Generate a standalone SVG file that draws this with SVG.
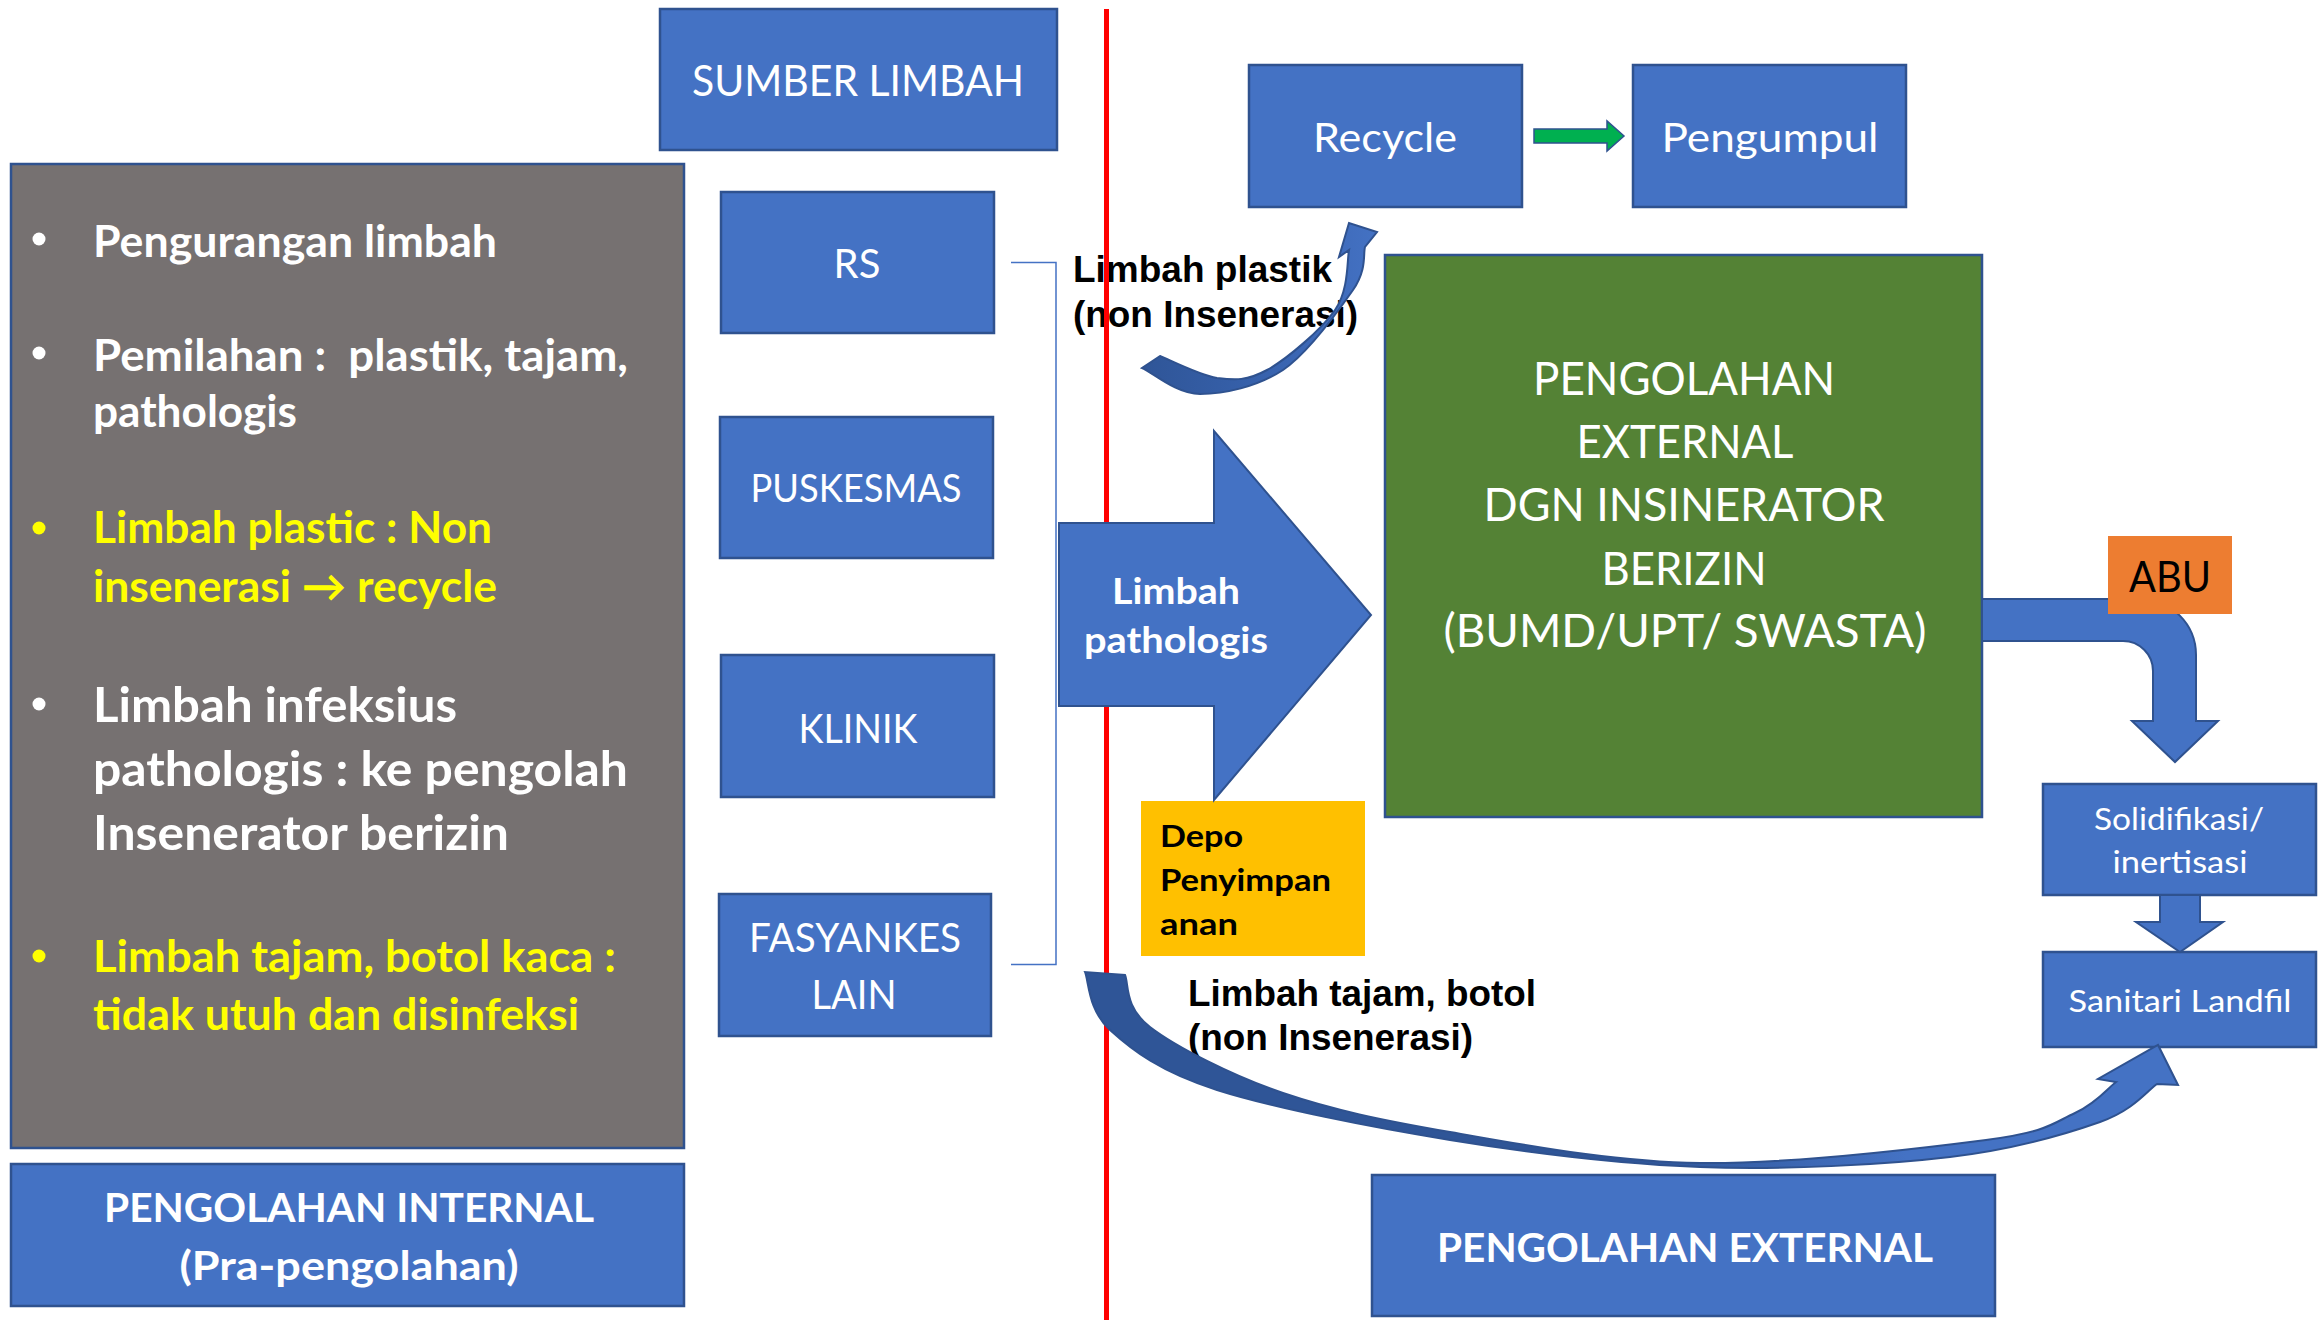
<svg xmlns="http://www.w3.org/2000/svg" width="2321" height="1320" viewBox="0 0 2321 1320">
<style>
.box{fill:#4472C4;stroke:#2F528F;stroke-width:2.5}
.gray{fill:#767171;stroke:#2F528F;stroke-width:2.5}
.green{fill:#548235;stroke:#2F528F;stroke-width:2.5}
.t{font-family:Lato,"Open Sans","Liberation Sans",sans-serif;fill:#fff}
.b{font-weight:bold}
.y{fill:#FFFF00}
.k{fill:#000}
.ar{font-family:"Liberation Sans",Arial,sans-serif;font-weight:bold;fill:#000;font-size:36px}
.mid{text-anchor:middle}
.blt{fill:#fff}
.arrow{fill:#4472C4;stroke:#2F528F;stroke-width:2}
</style>
<defs>
<linearGradient id="gTop" x1="1140" y1="0" x2="1380" y2="0" gradientUnits="userSpaceOnUse">
<stop offset="0" stop-color="#2F5597"/><stop offset="0.45" stop-color="#3660AA"/><stop offset="1" stop-color="#4472C4"/>
</linearGradient>
<linearGradient id="gBot" x1="1085" y1="0" x2="2180" y2="0" gradientUnits="userSpaceOnUse">
<stop offset="0" stop-color="#2F5597"/><stop offset="0.5" stop-color="#2F5597"/><stop offset="0.75" stop-color="#4472C4"/><stop offset="1" stop-color="#4472C4"/>
</linearGradient>
</defs>
<rect width="2321" height="1320" fill="#fff"/>

<g id="sumber-limbah">
<rect class="box" x="660" y="9" width="397" height="141"/>
<text class="t mid" x="858" y="96" font-size="42" textLength="332" lengthAdjust="spacingAndGlyphs">SUMBER LIMBAH</text>
</g>

<g id="internal-list">
<rect class="gray" x="11" y="164" width="673" height="984"/>
<g class="t b" font-size="44">
<circle class="blt" cx="39" cy="239" r="6.5"/>
<text x="93" y="257" textLength="404" lengthAdjust="spacingAndGlyphs">Pengurangan limbah</text>
<circle class="blt" cx="39" cy="353" r="6.5"/>
<text x="93" y="371" textLength="535" lengthAdjust="spacingAndGlyphs" xml:space="preserve">Pemilahan :  plastik, tajam,</text>
<text x="93" y="427" textLength="204" lengthAdjust="spacingAndGlyphs">pathologis</text>
<circle fill="#FFFF00" cx="39" cy="528" r="6.5"/>
<text class="y" x="93" y="543" textLength="399" lengthAdjust="spacingAndGlyphs">Limbah plastic : Non</text>
<text class="y" x="93" y="602" textLength="404" lengthAdjust="spacingAndGlyphs">insenerasi → recycle</text>
<circle class="blt" cx="39" cy="704" r="6.5"/>
<text x="93" y="722" font-size="48" textLength="364" lengthAdjust="spacingAndGlyphs">Limbah infeksius</text>
<text x="93" y="786" font-size="48" textLength="535" lengthAdjust="spacingAndGlyphs">pathologis : ke pengolah</text>
<text x="93" y="850" font-size="48" textLength="416" lengthAdjust="spacingAndGlyphs">Insenerator berizin</text>
<circle fill="#FFFF00" cx="39" cy="956" r="6.5"/>
<text class="y" x="93" y="972" textLength="523" lengthAdjust="spacingAndGlyphs">Limbah tajam, botol kaca :</text>
<text class="y" x="93" y="1030" textLength="486" lengthAdjust="spacingAndGlyphs">tidak utuh dan disinfeksi</text>
</g>
</g>

<g id="pengolahan-internal">
<rect class="box" x="11" y="1164" width="673" height="142"/>
<text class="t b mid" x="349" y="1222" font-size="40" textLength="490" lengthAdjust="spacingAndGlyphs">PENGOLAHAN INTERNAL</text>
<text class="t b mid" x="349" y="1280" font-size="40" textLength="339" lengthAdjust="spacingAndGlyphs">(Pra-pengolahan)</text>
</g>

<g id="rs">
<rect class="box" x="721" y="192" width="273" height="141"/>
<text class="t mid" x="857" y="278" font-size="40">RS</text>
</g>
<g id="puskesmas">
<rect class="box" x="720" y="417" width="273" height="141"/>
<text class="t mid" x="856" y="502" font-size="39" textLength="211" lengthAdjust="spacingAndGlyphs">PUSKESMAS</text>
</g>
<g id="klinik">
<rect class="box" x="721" y="655" width="273" height="142"/>
<text class="t mid" x="858" y="743" font-size="40" textLength="119" lengthAdjust="spacingAndGlyphs">KLINIK</text>
</g>
<g id="fasyankes-lain">
<rect class="box" x="719" y="894" width="272" height="142"/>
<text class="t mid" x="855" y="952" font-size="40" textLength="212" lengthAdjust="spacingAndGlyphs">FASYANKES</text>
<text class="t mid" x="854" y="1009" font-size="40" textLength="85" lengthAdjust="spacingAndGlyphs">LAIN</text>
</g>

<g id="recycle">
<rect class="box" x="1249" y="65" width="273" height="142"/>
<text class="t mid" x="1385" y="152" font-size="40" textLength="144" lengthAdjust="spacingAndGlyphs">Recycle</text>
</g>
<g id="pengumpul">
<rect class="box" x="1633" y="65" width="273" height="142"/>
<text class="t mid" x="1770" y="152" font-size="40" textLength="217" lengthAdjust="spacingAndGlyphs">Pengumpul</text>
</g>

<g id="pengolahan-external-insinerator">
<rect class="green" x="1385" y="255" width="597" height="562"/>
<g class="t mid" font-size="46">
<text x="1684" y="395" textLength="302" lengthAdjust="spacingAndGlyphs">PENGOLAHAN</text>
<text x="1685" y="458" textLength="217" lengthAdjust="spacingAndGlyphs">EXTERNAL</text>
<text x="1684" y="521" textLength="401" lengthAdjust="spacingAndGlyphs">DGN INSINERATOR</text>
<text x="1684" y="585" textLength="165" lengthAdjust="spacingAndGlyphs">BERIZIN</text>
<text x="1685" y="647" textLength="483" lengthAdjust="spacingAndGlyphs">(BUMD/UPT/ SWASTA)</text>
</g>
</g>

<g id="depo">
<rect x="1141" y="801" width="224" height="155" fill="#FFC000"/>
<g class="t b k" font-size="30">
<text x="1160" y="847" textLength="83" lengthAdjust="spacingAndGlyphs">Depo</text>
<text x="1160" y="891" textLength="171" lengthAdjust="spacingAndGlyphs">Penyimpan</text>
<text x="1160" y="935" textLength="78" lengthAdjust="spacingAndGlyphs">anan</text>
</g>
</g>

<g id="solidifikasi">
<rect class="box" x="2043" y="784" width="273" height="111"/>
<text class="t mid" x="2179" y="830" font-size="31" textLength="170" lengthAdjust="spacingAndGlyphs">Solidifikasi/</text>
<text class="t mid" x="2180" y="873" font-size="31" textLength="135" lengthAdjust="spacingAndGlyphs">inertisasi</text>
</g>
<g id="sanitari-landfil">
<rect class="box" x="2043" y="952" width="273" height="95"/>
<text class="t mid" x="2180" y="1012" font-size="31" textLength="223" lengthAdjust="spacingAndGlyphs">Sanitari Landfil</text>
</g>

<g id="pengolahan-external">
<rect class="box" x="1372" y="1175" width="623" height="141"/>
<text class="t b mid" x="1685" y="1262" font-size="40" textLength="496" lengthAdjust="spacingAndGlyphs">PENGOLAHAN EXTERNAL</text>
</g>

<g id="labels">
<text class="ar" x="1073" y="282" textLength="259" lengthAdjust="spacingAndGlyphs">Limbah plastik</text>
<text class="ar" x="1073" y="327" textLength="285" lengthAdjust="spacingAndGlyphs">(non Insenerasi)</text>
<text class="ar" x="1188" y="1006" textLength="348" lengthAdjust="spacingAndGlyphs">Limbah tajam, botol</text>
<text class="ar" x="1188" y="1050" textLength="285" lengthAdjust="spacingAndGlyphs">(non Insenerasi)</text>
</g>

<g id="divider">
<line x1="1106.5" y1="9" x2="1106.5" y2="1320" stroke="#FF0000" stroke-width="5"/>
</g>

<g id="connectors">
<path d="M1011,262.5 H1056 V964.5 H1011" fill="none" stroke="#4472C4" stroke-width="1.5"/>
<path d="M1534,129 H1607 V121 L1624,136 L1607,151 V143 H1534 Z" fill="#00B050" stroke="#2F528F" stroke-width="1.5"/>
<path d="M1142,368 C1152,372 1176,394 1200,394 C1224,394 1257,387 1283,370 C1308,353 1339,310 1353,290 C1367,270 1363,254 1365,247 L1377,232 L1349,223 L1339,257 L1349,250 C1347,260 1349,290 1335,310 C1321,330 1287,359 1267,370 C1247,381 1235,380 1217,378 C1199,375 1170,360 1160,356 Z" fill="url(#gTop)" stroke="#2F528F" stroke-width="2"/>
<path d="M1085,972 C1089,982 1088,1010 1110,1030 C1132,1050 1160,1072 1217,1090 C1274,1108 1370,1127 1450,1140 C1530,1153 1617,1164 1700,1167 C1783,1170 1883,1165 1950,1157 C2017,1149 2066,1134 2100,1122 C2134,1110 2148,1090 2157,1084 L2178,1085 L2158,1045 L2098,1079 L2116,1082 C2109,1087 2097,1103 2075,1113 C2053,1123 2048,1132 1986,1140 C1924,1148 1789,1164 1700,1163 C1611,1162 1520,1144 1450,1132 C1381,1120 1333,1110 1283,1093 C1233,1076 1176,1047 1150,1027 C1124,1007 1129,984 1125,975 Z" fill="url(#gBot)" stroke="#2F528F" stroke-width="2"/>
<path class="arrow" d="M1982,599 L2140,599 A56,56 0 0 1 2196,655 L2196,721 L2218,721 L2175,762 L2132,721 L2153,721 L2153,671 A30,30 0 0 0 2123,641 L1982,641 Z"/>
<path class="arrow" d="M2160,895 H2200 V922 H2223 L2180,952 L2136,922 H2160 Z"/>
</g>

<g id="limbah-pathologis">
<path class="arrow" d="M1059,523 L1214,523 L1214,431 L1371,615 L1214,800 L1214,706 L1059,706 Z"/>
<text class="t b mid" x="1176" y="604" font-size="36" textLength="128" lengthAdjust="spacingAndGlyphs">Limbah</text>
<text class="t b mid" x="1176" y="653" font-size="36" textLength="184" lengthAdjust="spacingAndGlyphs">pathologis</text>
</g>

<g id="abu">
<rect x="2108" y="536" width="124" height="78" fill="#ED7D31"/>
<text class="t k mid" x="2170" y="592" font-size="42" textLength="82" lengthAdjust="spacingAndGlyphs">ABU</text>
</g>
</svg>
